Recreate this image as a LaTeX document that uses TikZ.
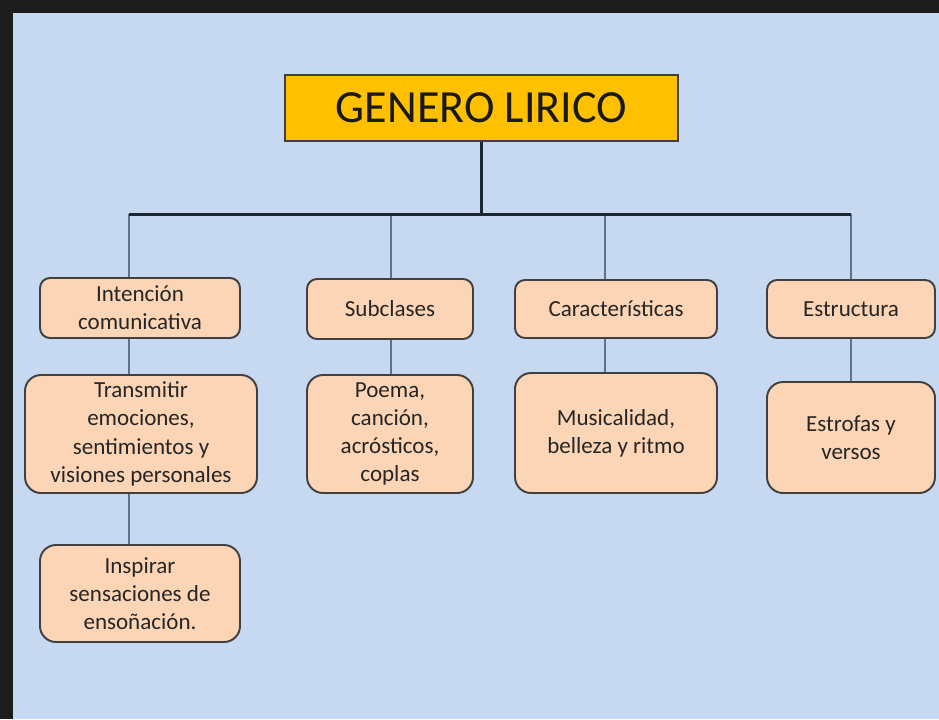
\documentclass[tikz,border=0pt]{standalone}
\usepackage{fontspec}
\setmainfont{Carlito}
\usepackage{xcolor}
\usepackage{tikz}
\usetikzlibrary{positioning,calc}
\definecolor{sheet}{RGB}{198,217,240}
\definecolor{frame}{RGB}{28,28,28}
\definecolor{gold}{RGB}{255,192,0}
\definecolor{peach}{RGB}{251,213,181}
\definecolor{edge}{RGB}{64,64,64}
\definecolor{wire}{RGB}{90,115,145}
\definecolor{stem}{RGB}{30,38,50}
\newcommand{\boxtxt}{\fontsize{13.1}{16.1}\selectfont}

\begin{document}
\begin{tikzpicture}[x=0.2mm,y=-0.2mm,
  box/.style={draw=edge,line width=1.1pt,fill=peach,rounded corners=2mm,align=center,inner sep=0pt,text=black!85,font=\boxtxt},
  bigbox/.style={box,rounded corners=3.2mm},
  link/.style={wire,line width=0.85pt},
  trunk/.style={stem,line width=1.7pt}]
\useasboundingbox (0,0) rectangle (939,719);
\fill[sheet] (0,0) rectangle (939,719);
\fill[frame] (0,0) rectangle (939,13);
\fill[frame] (0,0) rectangle (13,719);

\node[draw=edge,line width=0.85pt,fill=gold,inner sep=0pt,minimum width=78.6mm,minimum height=13.2mm,
  text=black!90,font=\fontsize{26.2}{30}\selectfont] (title) at (481.5,108) {GENERO LIRICO};

% first row
\node[box,minimum width=40mm,minimum height=12mm] (intent) at (140,308) {Intención\\comunicativa};
\node[box,minimum width=33.2mm,minimum height=12mm] (subcl) at (390,309) {Subclases};
\node[box,minimum width=40.4mm,minimum height=11.6mm] (caract) at (616,309) {Características};
\node[box,minimum width=33.6mm,minimum height=11.6mm] (estr) at (851,309) {Estructura};

% second row
\node[bigbox,minimum width=46.4mm,minimum height=23.6mm] (transm) at (141,434) {Transmitir\\emociones,\\sentimientos y\\visiones personales};
\node[bigbox,minimum width=33.2mm,minimum height=23.6mm] (poema) at (390,434) {Poema,\\canción,\\acrósticos,\\coplas};
\node[bigbox,minimum width=40.4mm,minimum height=24mm] (music) at (616,433) {Musicalidad,\\belleza y ritmo};
\node[bigbox,minimum width=33.6mm,minimum height=22.2mm] (estrof) at (851,437.5) {Estrofas y\\versos};

% third row
\node[bigbox,minimum width=40mm,minimum height=19.4mm] (inspir) at (140,593.5) {Inspirar\\sensaciones de\\ensoñación.};

% branch points on the bar
\coordinate (c1) at (129,214);
\coordinate (c2) at (391,214);
\coordinate (c3) at (605,214);
\coordinate (c4) at (851,214);

\foreach \n/\c in {intent/c1,subcl/c2,caract/c3,estr/c4}
   \draw[link] (\c) -- (\n.north -| \c);
\foreach \a/\b/\c in {intent/transm/c1,transm/inspir/c1,subcl/poema/c2,caract/music/c3,estr/estrof/c4}
   \draw[link] (\a.south -| \c) -- (\b.north -| \c);
\draw[trunk] (title.south) -- (title.south |- c1);
\draw[trunk] (c1) -- (c4);
\end{tikzpicture}
\end{document}
